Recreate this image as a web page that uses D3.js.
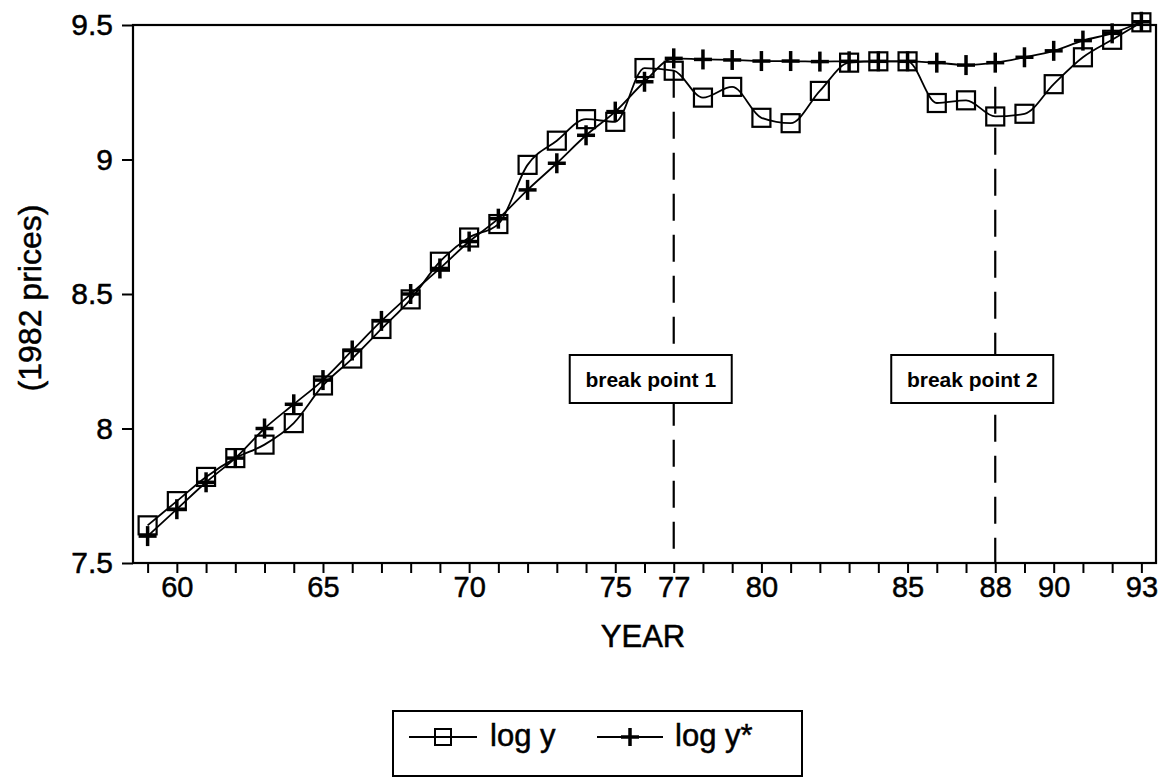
<!DOCTYPE html>
<html>
<head>
<meta charset="utf-8">
<script src="https://cdn.jsdelivr.net/npm/d3@7/dist/d3.min.js"></script>
<style>
  body { margin: 0; background: #fff; }
  text { font-family: "Liberation Sans", Arial, sans-serif; fill: #000; }
  .heavy { stroke: #000; stroke-width: 0.5px; }
</style>
</head>
<body>
<div class="canvas"></div>
<script>
const years = [59, 60, 61, 62, 63, 64, 65, 66, 67, 68, 69, 70, 71, 72, 73, 74, 75, 76,
  77, 78, 79, 80, 81, 82, 83, 84, 85, 86, 87, 88, 89, 90, 91, 92, 93];
const logY = [7.64, 7.73, 7.82, 7.89, 7.94, 8.02, 8.16, 8.26, 8.37, 8.48, 8.62, 8.71,
  8.76, 8.98, 9.07, 9.15, 9.14, 9.34, 9.33, 9.23, 9.27, 9.155, 9.135, 9.255, 9.36,
  9.365, 9.365, 9.21, 9.22, 9.16, 9.17, 9.28, 9.38, 9.445, 9.51];
const logYStar = [7.60, 7.70, 7.80, 7.89, 8.00, 8.09, 8.18, 8.29, 8.40, 8.50, 8.595,
  8.695, 8.78, 8.887, 8.986, 9.09, 9.178, 9.289, 9.376, 9.372, 9.37, 9.366, 9.366,
  9.364, 9.365, 9.365, 9.365, 9.36, 9.351, 9.36, 9.38, 9.404, 9.442, 9.469, 9.512];
const xTickLabels = [60, 65, 70, 75, 77, 80, 85, 88, 90, 93];
const yTicks = [7.5, 8, 8.5, 9, 9.5];
const breakYears = [77, 88];
const breakTops = [9.33, 9.27];
const breakLabels = ['break point 1', 'break point 2'];

const svg = d3.select('.canvas')
  .append('svg')
  .attr('width', 1165)
  .attr('height', 782)

const x = d3.scaleLinear().domain([58.5, 93.5]).range([133, 1156]);
const y = d3.scaleLinear().domain([7.5, 9.5]).range([563, 25]);

// frame
svg.append('rect')
  .attr('x', x(58.5))
  .attr('y', y(9.5))
  .attr('width', x(93.5) - x(58.5))
  .attr('height', y(7.5) - y(9.5))
  .attr('fill', 'none')
  .attr('stroke', '#000')
  .attr('stroke-width', 2.2)

// x axis
const xAxis = svg.append('g')
  .attr('transform', `translate(0,${y(7.5)})`)
  .call(d3.axisBottom(x)
    .tickValues(years)
    .tickSize(10)
    .tickPadding(3)
    .tickFormat(d => xTickLabels.includes(d) ? d : ''))
xAxis.select('.domain').remove()
xAxis.selectAll('line').attr('stroke-width', 2)
xAxis.selectAll('text')
  .attr('class', 'heavy')
  .attr('font-size', 29)
  .attr('font-family', '"Liberation Sans", Arial, sans-serif')

// y axis
const yAxis = svg.append('g')
  .attr('transform', `translate(${x(58.5)},0)`)
  .call(d3.axisLeft(y)
    .tickValues(yTicks)
    .tickSize(11)
    .tickPadding(9)
    .tickFormat(d => String(d)))
yAxis.select('.domain').remove()
yAxis.selectAll('line').attr('stroke-width', 2)
yAxis.selectAll('text')
  .attr('class', 'heavy')
  .attr('font-size', 30)
  .attr('font-family', '"Liberation Sans", Arial, sans-serif')

// axis titles
svg.append('text')
  .attr('class', 'heavy')
  .attr('x', 643)
  .attr('y', 647)
  .attr('text-anchor', 'middle')
  .attr('font-size', 31)
  .text('YEAR')

svg.append('text')
  .attr('class', 'heavy')
  .attr('transform', 'translate(41,298) rotate(-90)')
  .attr('text-anchor', 'middle')
  .attr('font-size', 32)
  .text('(1982 prices)')

// break lines
breakYears.forEach((yr, i) => {
  svg.append('line')
    .attr('x1', x(yr))
    .attr('x2', x(yr))
    .attr('y1', y(breakTops[i]))
    .attr('y2', y(7.5))
    .attr('stroke', '#000')
    .attr('stroke-width', 2.2)
    .attr('stroke-dasharray', '27,14')
})

// series lines
const line = d3.line()
  .x((d, i) => x(years[i]))
  .y(d => y(d))
  .curve(d3.curveMonotoneX)

svg.append('path')
  .datum(logY)
  .attr('d', line)
  .attr('fill', 'none')
  .attr('stroke', '#000')
  .attr('stroke-width', 1.8)

svg.append('path')
  .datum(logYStar)
  .attr('d', line)
  .attr('fill', 'none')
  .attr('stroke', '#000')
  .attr('stroke-width', 1.8)

// markers: squares for log y
svg.selectAll('rect.sq')
  .data(logY)
  .enter()
  .append('rect')
  .attr('class', 'sq')
  .attr('x', (d, i) => x(years[i]) - 9)
  .attr('y', d => y(d) - 9)
  .attr('width', 18)
  .attr('height', 18)
  .attr('fill', 'none')
  .attr('stroke', '#000')
  .attr('stroke-width', 2.2)

// markers: plus for log y*
const plus = svg.selectAll('g.plus')
  .data(logYStar)
  .enter()
  .append('g')
  .attr('class', 'plus')
  .attr('transform', (d, i) => `translate(${x(years[i])},${y(d)})`)
plus.append('line')
  .attr('x1', -9).attr('x2', 9)
  .attr('stroke', '#000').attr('stroke-width', 3.5)
plus.append('line')
  .attr('y1', -10).attr('y2', 10)
  .attr('stroke', '#000').attr('stroke-width', 3.5)

// break boxes
breakYears.forEach((yr, i) => {
  svg.append('rect')
    .attr('x', x(yr) - 104)
    .attr('y', 355)
    .attr('width', 162)
    .attr('height', 48)
    .attr('fill', '#fff')
    .attr('stroke', '#000')
    .attr('stroke-width', 2)
  svg.append('text')
    .attr('x', x(yr) - 23)
    .attr('y', 387)
    .attr('text-anchor', 'middle')
    .attr('font-size', 21)
    .attr('font-weight', 'bold')
    .text(breakLabels[i])
})

// legend
svg.append('rect')
  .attr('x', 393)
  .attr('y', 711)
  .attr('width', 409)
  .attr('height', 65)
  .attr('fill', 'none')
  .attr('stroke', '#000')
  .attr('stroke-width', 2)

svg.append('line')
  .attr('x1', 409).attr('x2', 477)
  .attr('y1', 737).attr('y2', 737)
  .attr('stroke', '#000').attr('stroke-width', 1.8)
svg.append('rect')
  .attr('x', 435).attr('y', 729)
  .attr('width', 16).attr('height', 16)
  .attr('fill', 'none')
  .attr('stroke', '#000').attr('stroke-width', 2)
svg.append('text')
  .attr('class', 'heavy')
  .attr('x', 490).attr('y', 746)
  .attr('font-size', 31)
  .text('log y')

svg.append('line')
  .attr('x1', 597).attr('x2', 663)
  .attr('y1', 737).attr('y2', 737)
  .attr('stroke', '#000').attr('stroke-width', 1.8)
svg.append('line')
  .attr('x1', 621).attr('x2', 639)
  .attr('y1', 737).attr('y2', 737)
  .attr('stroke', '#000').attr('stroke-width', 3.5)
svg.append('line')
  .attr('x1', 630).attr('x2', 630)
  .attr('y1', 728).attr('y2', 746)
  .attr('stroke', '#000').attr('stroke-width', 3.5)
svg.append('text')
  .attr('class', 'heavy')
  .attr('x', 675).attr('y', 746)
  .attr('font-size', 31)
  .text('log y*')
</script>
</body>
</html>
